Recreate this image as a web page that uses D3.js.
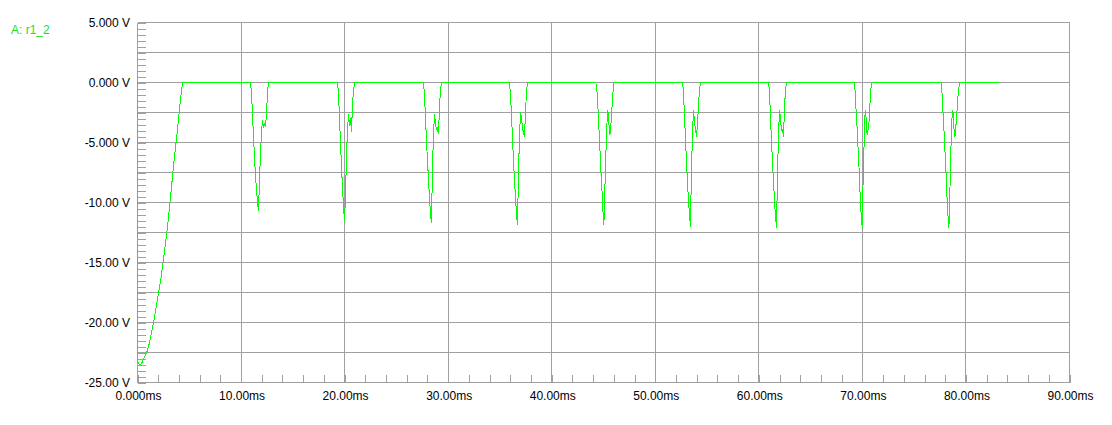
<!DOCTYPE html>
<html>
<head>
<meta charset="utf-8">
<script src="https://cdn.jsdelivr.net/npm/d3@7"></script>
<style>
  html, body { margin: 0; padding: 0; background: #ffffff; }
  svg { display: block; }
  text { font-family: "Liberation Sans", Arial, sans-serif; font-size: 12px; }
</style>
</head>
<body>
<svg id="chart" width="1112" height="425"></svg>
<script>
// ---------------- data ----------------
const seriesName = "A: r1_2";
const xTickValues = [0, 10, 20, 30, 40, 50, 60, 70, 80, 90];
const xTickLabels = ["0.000ms","10.00ms","20.00ms","30.00ms","40.00ms","50.00ms","60.00ms","70.00ms","80.00ms","90.00ms"];
const yTickValues = [5, 0, -5, -10, -15, -20, -25];
const yTickLabels = ["5.000 V","0.000 V","-5.000 V","-10.00 V","-15.00 V","-20.00 V","-25.00 V"];

// initial ramp (time ms, volts)
const rampTimes  = [0, 0, 0.20, 0.42, 0.74, 0.90, 1.13, 1.32, 1.61, 1.93, 2.26, 2.58, 2.90, 3.22, 3.51, 3.80, 4.12, 4.35];
const rampValues = [0, -23.17, -23.58, -23.36, -22.75, -22.47, -21.78, -20.94, -19.69, -18.03, -16.36, -14.28, -12.06, -9.28, -6.64, -4.42, -1.64, 0];

// spike start times (ms) and sample step (ms)
const sampleStep = 0.0966;
const spikeStarts = [11.01, 19.41, 27.71, 36.02, 44.36, 52.72, 61.03, 69.30, 77.68];
const spike1 = [-0.9, -2.6, -4.6, -6.2, -7.8, -8.9, -10.0, -10.7, -8.0, -5.9, -4.1, -3.1, -3.8, -3.4, -3.7, -2.6, -0.8, 0];
const spike2 = [-0.9, -3.0, -5.0, -7.1, -8.7, -10.4, -11.5, -9.5, -6.0, -4.0, -2.6, -3.6, -3.0, -4.1, -1.8, -0.7, 0];
const spike3 = [-0.9, -2.9, -4.8, -6.5, -8.0, -9.6, -10.9, -11.7, -7.1, -4.5, -2.6, -3.4, -3.9, -3.8, -4.3, -2.2, -0.6, 0];
const spike4 = [-1.0, -2.7, -4.6, -6.6, -8.1, -9.6, -11.0, -11.9, -7.4, -4.5, -2.5, -2.9, -3.8, -4.2, -4.5, -2.4, -0.8, 0];
const spike5 = [-0.6, -2.0, -3.7, -5.4, -7.3, -8.8, -10.6, -11.9, -8.9, -6.0, -3.5, -2.3, -3.4, -4.4, -3.6, -2.2, -0.9, 0];
const spike6 = [-0.6, -2.8, -4.6, -6.6, -8.3, -9.8, -11.0, -12.0, -7.5, -4.4, -2.3, -3.2, -3.9, -4.5, -3.5, -2.0, -0.6, 0];
const spike7 = [-0.8, -2.9, -4.9, -6.6, -8.3, -9.8, -11.2, -12.1, -7.7, -4.3, -2.3, -3.0, -4.0, -3.9, -4.5, -2.1, -0.6, 0];
const spike8 = [-0.7, -2.4, -3.8, -5.6, -7.3, -9.4, -11.0, -12.0, -8.0, -5.0, -2.3, -3.0, -4.4, -3.9, -3.2, -1.5, -0.3, 0];
const spike9 = [-0.7, -2.4, -3.9, -5.6, -7.3, -9.4, -11.0, -12.1, -9.0, -5.5, -3.0, -2.3, -3.8, -4.5, -3.6, -2.5, -1.2, -0.4, 0];
const spikeValues = [spike1, spike2, spike3, spike4, spike5, spike6, spike7, spike8, spike9];
const endTime = 83.24;

// ---------------- build series ----------------
const points = [];
rampTimes.forEach((t, i) => points.push([t, rampValues[i]]));
spikeStarts.forEach((t0, k) => {
  points.push([t0 - sampleStep, 0]);
  spikeValues[k].forEach((v, i) => points.push([t0 + i * sampleStep, v]));
});
points.push([endTime, 0]);

// ---------------- chart ----------------
const svg = d3.select("#chart");
const x = d3.scaleLinear().domain([0, 90]).range([137.5, 1069.5]);
const y = d3.scaleLinear().domain([-25, 5]).range([382.5, 22.5]);
const grid = "#a0a0a0";

const g = svg.append("g").attr("shape-rendering", "crispEdges");

// horizontal gridlines every 2.5 V
d3.range(-25, 5.001, 2.5).forEach(v => {
  g.append("line").attr("x1", x(0)).attr("x2", x(90)).attr("y1", y(v)).attr("y2", y(v))
    .attr("stroke", grid).attr("stroke-width", 1);
});
// vertical gridlines every 10 ms
xTickValues.forEach(t => {
  g.append("line").attr("x1", x(t)).attr("x2", x(t)).attr("y1", y(5)).attr("y2", y(-25))
    .attr("stroke", grid).attr("stroke-width", 1);
});

// left axis minor ticks (0.5 V)
const yAxisMinor = d3.axisRight(y).tickValues(d3.range(-25, 5.001, 0.5)).tickSize(8).tickFormat("");
const ya = svg.append("g").attr("transform", `translate(${x(0)},0)`).call(yAxisMinor);
ya.select(".domain").remove();
ya.selectAll("line").attr("stroke", grid).attr("shape-rendering", "crispEdges");

// bottom axis minor ticks (2 ms)
const xAxisMinor = d3.axisTop(x).tickValues(d3.range(0, 90.001, 2)).tickSize(8).tickFormat("");
const xa = svg.append("g").attr("transform", `translate(0,${y(-25)})`).call(xAxisMinor);
xa.select(".domain").remove();
xa.selectAll("line").attr("stroke", grid).attr("shape-rendering", "crispEdges");

// y labels
svg.append("g").selectAll("text").data(yTickValues).join("text")
  .attr("x", 130).attr("y", d => y(d) + 4)
  .attr("text-anchor", "end").attr("fill", "#000").text((d, i) => yTickLabels[i]);

// x labels
svg.append("g").selectAll("text").data(xTickValues).join("text")
  .attr("x", d => x(d) + 1).attr("y", 400)
  .attr("text-anchor", "middle").attr("fill", "#000").text((d, i) => xTickLabels[i]);

// legend
svg.append("text").attr("x", 11).attr("y", 34).attr("fill", "#1ee01e").text(seriesName);

// trace
const line = d3.line().x(d => x(d[0])).y(d => y(d[1]));
svg.append("path").datum(points).attr("d", line)
  .attr("fill", "none").attr("stroke", "#00ff00").attr("stroke-width", 1)
  .attr("shape-rendering", "crispEdges");
</script>
</body>
</html>
